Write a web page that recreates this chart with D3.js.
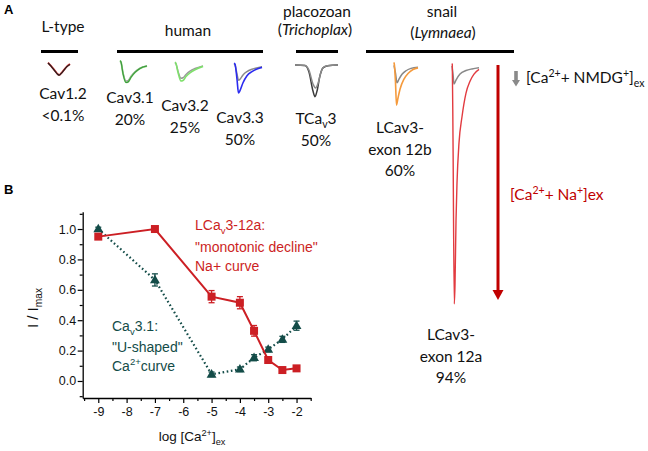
<!DOCTYPE html>
<html>
<head>
<meta charset="utf-8">
<script src="https://cdn.jsdelivr.net/npm/d3@7"></script>
<style>
body { margin: 0; background: #fff; }
</style>
</head>
<body>
<div id="chart"></div>
<script>
// ---- panel B data: normalised peak current vs log [Ca2+]ex
var logCa = [-9, -7, -5, -4, -3.5, -3, -2.5, -2];
var lcav3Norm = [0.95, 1.0, 0.555, 0.515, 0.33, 0.138, 0.072, 0.083];
var lcav3Err = [0.012, 0.01, 0.04, 0.04, 0.035, 0.015, 0.012, 0.012];
var cav31Norm = [1.0, 0.665, 0.044, 0.077, 0.153, 0.208, 0.274, 0.364];
var cav31Err = [0.012, 0.04, 0.015, 0.015, 0.02, 0.015, 0.02, 0.03];
var xTicks = [-9, -8, -7, -6, -5, -4, -3, -2];
var yTicks = [0, 0.2, 0.4, 0.6, 0.8, 1.0];

// ---- panel A data: current traces [time ms, current nA], Na+ (coloured) and NMDG+ (grey)
var cav12Na   = [[0,0.02],[3,-0.12],[7,-0.33],[10,-0.48],[11.5,-0.5],[13,-0.44],[16,-0.29],[19,-0.14],[22,-0.04]];
var cav12Nmdg = [[0,0],[3,-0.13],[7,-0.34],[10,-0.49],[11.5,-0.51],[13,-0.45],[16,-0.3],[19,-0.15],[22,-0.06]];
var cav31Na   = [[0,0.1],[1,0.04],[3,-0.45],[6,-0.82],[8,-0.8],[11,-0.6],[15,-0.4],[20,-0.23],[27,-0.13]];
var cav31Nmdg = [[0,0.06],[1,0.02],[3,-0.4],[6,-0.76],[8,-0.74],[11,-0.56],[15,-0.37],[20,-0.21],[27,-0.12]];
var cav32Na   = [[0,0.08],[1,0.02],[3,-0.35],[6,-0.72],[8,-0.7],[11,-0.53],[15,-0.37],[20,-0.24],[28,-0.1]];
var cav32Nmdg = [[0,0.05],[1,0],[3,-0.3],[6,-0.6],[8,-0.58],[11,-0.44],[15,-0.3],[20,-0.19],[28,-0.08]];
var cav33Na   = [[0,0.08],[1,0.04],[3,-0.6],[4.5,-1.18],[6,-1.08],[9,-0.75],[13,-0.45],[18,-0.28],[23,-0.17],[28,-0.1]];
var cav33Nmdg = [[0,0.05],[1,0],[3,-0.38],[4.5,-0.64],[6,-0.6],[9,-0.42],[13,-0.28],[18,-0.18],[28,-0.07]];
var tcav3Na   = [[0,0],[10,-0.02],[14,-0.3],[18,-1.1],[20,-1.34],[22,-1.1],[25,-0.45],[28,-0.12],[33,-0.03],[43,0]];
var tcav3Nmdg = [[0,0],[10,-0.02],[14,-0.22],[18,-0.8],[20.5,-0.97],[23,-0.78],[26,-0.3],[29,-0.08],[34,-0.02],[43,0]];
var l12bNa    = [[0,0.15],[0.4,0.05],[1.5,-0.7],[2.5,-1.65],[4,-1.35],[6,-0.98],[10,-0.55],[14,-0.32],[19,-0.15],[24,-0.08]];
var l12bNmdg  = [[0,0.03],[1.5,-0.3],[3,-0.71],[5,-0.55],[8,-0.35],[12,-0.2],[17,-0.1],[24,-0.05]];
var l12aNa    = [[0,0.15],[0.3,0.1],[1,-3],[2.3,-10],[3,-9.2],[4,-6.5],[5,-4.9],[7,-3.2],[10,-2.1],[14,-1.1],[18,-0.6],[22,-0.3],[27,-0.1]];
var l12aNmdg  = [[0,0.05],[1,-0.3],[2,-0.72],[4,-0.55],[8,-0.3],[14,-0.15],[20,-0.08],[27,-0.03]];

var channelNames = ["Cav1.2", "Cav3.1", "Cav3.2", "Cav3.3", "TCav3", "LCav3-|exon 12b", "LCav3-|exon 12a"];
var naShare = ["<0.1%", "20%", "25%", "50%", "50%", "60%", "94%"];

var red = "#cc1f24", teal = "#134c48";
var arial = "'Liberation Sans', Arial, sans-serif";

var svg = d3.select("#chart").append("svg")
    .attr("width", 648).attr("height", 451)
    .attr("font-family", "Lato, sans-serif");

// text with sup / sub / italic pieces
function rich(t, parts, size){
    var shift = 0;
    parts.forEach(function(p){
        var target = p[1] == "sup" ? -0.38 * size : p[1] == "sub" ? 0.28 * size : 0;
        var ts = t.append("tspan").text(p[0]).attr("dy", target - shift);
        if (p[1] == "sup" || p[1] == "sub") ts.attr("font-size", size * 0.68);
        if (p[1] == "i") ts.attr("font-style", "italic");
        shift = target;
    });
    return t;
}

// ================= panel A =================
svg.append("text").attr("x", 4).attr("y", 14).attr("font-family", arial)
    .attr("font-weight", "bold").attr("font-size", 13).text("A");

var heads = svg.append("g").attr("font-size", 15.5).attr("fill", "#111").attr("text-anchor", "middle");
heads.append("text").attr("x", 63).attr("y", 32).text("L-type");
heads.append("text").attr("x", 188).attr("y", 36).text("human");
heads.append("text").attr("x", 317).attr("y", 17).text("placozoan");
rich(heads.append("text").attr("x", 315).attr("y", 35), [["(",""],["Trichoplax","i"],[")",""]], 15.5);
heads.append("text").attr("x", 442).attr("y", 17).text("snail");
rich(heads.append("text").attr("x", 443).attr("y", 38), [["(",""],["Lymnaea","i"],[")",""]], 15.5);

var bars = [[41, 78], [117, 263], [296, 338], [366, 514]];
svg.selectAll(".bar").data(bars).enter().append("line")
    .attr("x1", d => d[0]).attr("x2", d => d[1])
    .attr("y1", 51.5).attr("y2", 51.5)
    .attr("stroke", "#000").attr("stroke-width", 3);

// trace groups: start x, baseline y, traces drawn in order
var traceGroups = [
    {x0: 48,  base: 63, traces: [[cav12Na, "#d42a2a", 1.8], [cav12Nmdg, "#222", 1.2]]},
    {x0: 120, base: 63, traces: [[cav31Nmdg, "#999", 1.3], [cav31Na, "#8be07a", 1.8], [cav31Na, "#3d9440", 1.1]]},
    {x0: 175, base: 64, traces: [[cav32Nmdg, "#999", 1.4], [cav32Na, "#7fe06c", 1.6]]},
    {x0: 234, base: 65, traces: [[cav33Nmdg, "#8a8a8a", 1.5], [cav33Na, "#2b2bf0", 1.6]]},
    {x0: 295, base: 65, traces: [[tcav3Na, "#3a3a3a", 1.5], [tcav3Nmdg, "#8a8a8a", 1.5]]},
    {x0: 394, base: 66, traces: [[l12bNmdg, "#888", 1.5], [l12bNa, "#f59a3c", 1.6]]},
    {x0: 452, base: 67, traces: [[l12aNmdg, "#888", 1.5], [l12aNa, "#e23b40", 1.4]]}
];

traceGroups.forEach(function(gr){
    var tx = d3.scaleLinear().domain([0, 50]).range([gr.x0, gr.x0 + 50]);
    var iy = d3.scaleLinear().domain([0, -10]).range([gr.base, gr.base + 237]);
    var line = d3.line().x(d => tx(d[0])).y(d => iy(d[1])).curve(d3.curveMonotoneX);
    gr.traces.forEach(function(tr){
        svg.append("path").datum(tr[0]).attr("d", line)
            .attr("fill", "none").attr("stroke", tr[1]).attr("stroke-width", tr[2])
            .attr("stroke-linejoin", "round");
    });
});

// channel labels
var labelPos = [[63, 99], [130, 103], [185, 111], [240, 123], [316, 124], [400, 133], [451, 340]];
var labs = svg.append("g").attr("font-size", 15.5).attr("fill", "#111").attr("text-anchor", "middle");
channelNames.forEach(function(n, i){
    var p = labelPos[i];
    var lines = n.split("|");
    lines.forEach(function(s, k){
        var t = labs.append("text").attr("x", p[0]).attr("y", p[1] + k * 22);
        if (s == "TCav3") rich(t, [["TCa",""],["v","sub"],["3",""]], 15.5);
        else t.text(s);
    });
    labs.append("text").attr("x", p[0]).attr("y", p[1] + lines.length * 21.5).text(naShare[i]);
});

// grey arrow for NMDG+ and red arrow for Na+
svg.append("path")
    .attr("d", "M514.2,71 L517.8,71 L517.8,80 L520,80 L516,86.5 L512,80 L514.2,80 Z")
    .attr("fill", "#8a8a8a");
rich(svg.append("text").attr("x", 526).attr("y", 83).attr("font-size", 15.5).attr("fill", "#111"),
    [["[Ca",""],["2+","sup"],["+ NMDG",""],["+","sup"],["]",""],["ex","sub"]], 15.5);

svg.append("line").attr("x1", 498).attr("x2", 498).attr("y1", 65).attr("y2", 292)
    .attr("stroke", "#c00000").attr("stroke-width", 3);
svg.append("path").attr("d", "M492.5,290 L503.5,290 L498,300 Z").attr("fill", "#c00000");
rich(svg.append("text").attr("x", 510).attr("y", 200).attr("font-size", 15.5).attr("fill", "#c00000"),
    [["[Ca",""],["2+","sup"],["+ Na",""],["+","sup"],["]ex",""]], 15.5);

// ================= panel B =================
var gB = svg.append("g").attr("font-family", arial);
gB.append("text").attr("x", 4).attr("y", 194).attr("font-weight", "bold").attr("font-size", 13).text("B");

var x = d3.scaleLinear().domain([-9.55, -1.5]).range([82.7, 310.7]);
var y = d3.scaleLinear().domain([-0.112, 1.114]).range([398, 211.7]);

var xMinor = d3.range(-9.5, -1.4, 0.5).filter(v => v % 1 != 0);
var yMinor = d3.range(-0.1, 1.15, 0.2);

gB.append("g").attr("transform", "translate(0,398)")
    .call(d3.axisBottom(x).tickValues(xMinor).tickSize(3).tickSizeOuter(0).tickFormat(""))
    .call(g => g.select(".domain").remove())
    .selectAll("line").attr("stroke-width", 1.2);
gB.append("g").attr("transform", "translate(82.7,0)")
    .call(d3.axisLeft(y).tickValues(yMinor).tickSize(3).tickSizeOuter(0).tickFormat(""))
    .call(g => g.select(".domain").remove())
    .selectAll("line").attr("stroke-width", 1.2);

var xAxis = gB.append("g").attr("transform", "translate(0,398)")
    .call(d3.axisBottom(x).tickValues(xTicks).tickSize(5).tickPadding(2).tickSizeOuter(0).tickFormat(d => String(d)));
var yAxis = gB.append("g").attr("transform", "translate(82.7,0)")
    .call(d3.axisLeft(y).tickValues(yTicks).tickSize(5).tickPadding(1.5).tickSizeOuter(0).tickFormat(d3.format(".1f")));
[xAxis, yAxis].forEach(function(a){
    a.attr("font-family", arial);
    a.select(".domain").attr("stroke-width", 1.3);
    a.selectAll("line").attr("stroke-width", 1.2);
    a.selectAll("text").attr("font-size", 12.5).attr("fill", "#111");
});
xAxis.selectAll("text").attr("dy", "0.9em");

// axis titles
rich(gB.append("text").attr("x", 192).attr("y", 441).attr("text-anchor", "middle").attr("font-size", 13.5).attr("fill", "#111"),
    [["log [Ca",""],["2+","sup"],["]",""],["ex","sub"]], 13.5);
rich(gB.append("text").attr("transform", "translate(38,308) rotate(-90)").attr("text-anchor", "middle")
    .attr("font-size", 15).attr("fill", "#111"),
    [["I / I",""],["max","sub"]], 15);

var pts = logCa.map((v, i) => ({x: v, na: lcav3Norm[i], naE: lcav3Err[i], ca: cav31Norm[i], caE: cav31Err[i]}));

// Cav3.1: dotted line, triangles
gB.append("path").datum(pts)
    .attr("d", d3.line().x(d => x(d.x)).y(d => y(d.ca)))
    .attr("fill", "none").attr("stroke", teal).attr("stroke-width", 2.2)
    .attr("stroke-dasharray", "1.6,2.6");
var caBars = gB.append("g").attr("stroke", teal).attr("stroke-width", 1.3);
pts.forEach(function(d){
    caBars.append("line").attr("x1", x(d.x)).attr("x2", x(d.x)).attr("y1", y(d.ca - d.caE)).attr("y2", y(d.ca + d.caE));
    [d.ca - d.caE, d.ca + d.caE].forEach(v => caBars.append("line")
        .attr("x1", x(d.x) - 3).attr("x2", x(d.x) + 3).attr("y1", y(v)).attr("y2", y(v)));
});
gB.selectAll(".tri").data(pts).enter().append("path")
    .attr("d", d3.symbol().type(d3.symbolTriangle).size(42))
    .attr("transform", d => "translate(" + x(d.x) + "," + (y(d.ca) + 0.5) + ")")
    .attr("fill", teal);

// LCav3-12a: solid line, squares
gB.append("path").datum(pts)
    .attr("d", d3.line().x(d => x(d.x)).y(d => y(d.na)))
    .attr("fill", "none").attr("stroke", red).attr("stroke-width", 2);
var naBars = gB.append("g").attr("stroke", red).attr("stroke-width", 1.3);
pts.forEach(function(d){
    naBars.append("line").attr("x1", x(d.x)).attr("x2", x(d.x)).attr("y1", y(d.na - d.naE)).attr("y2", y(d.na + d.naE));
    [d.na - d.naE, d.na + d.naE].forEach(v => naBars.append("line")
        .attr("x1", x(d.x) - 3).attr("x2", x(d.x) + 3).attr("y1", y(v)).attr("y2", y(v)));
});
gB.selectAll(".sq").data(pts).enter().append("rect")
    .attr("x", d => x(d.x) - 4).attr("y", d => y(d.na) - 4)
    .attr("width", 8).attr("height", 8).attr("fill", red);

// annotations
var noteR = gB.append("g").attr("font-size", 14).attr("fill", red);
rich(noteR.append("text").attr("x", 195).attr("y", 230), [["LCa",""],["v","sub"],["3-12a:",""]], 14);
noteR.append("text").attr("x", 195).attr("y", 251.7).text("\"monotonic decline\"");
noteR.append("text").attr("x", 195).attr("y", 270.7).text("Na+ curve");

var noteG = gB.append("g").attr("font-size", 14).attr("fill", teal);
rich(noteG.append("text").attr("x", 112).attr("y", 331), [["Ca",""],["v","sub"],["3.1:",""]], 14);
noteG.append("text").attr("x", 112).attr("y", 351.7).text("\"U-shaped\"");
rich(noteG.append("text").attr("x", 112).attr("y", 370.7), [["Ca",""],["2+","sup"],["curve",""]], 14);
</script>
</body>
</html>
